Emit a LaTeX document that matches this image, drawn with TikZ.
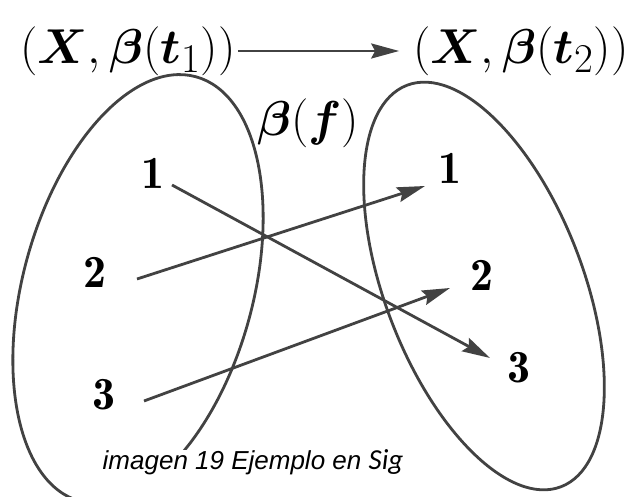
\documentclass[tikz,border=0pt]{standalone}
\usepackage{amsmath}
\usepackage{fontspec}
\newfontfamily\capfont{Liberation Sans}
\newfontfamily\sigfont{Carlito}
\usepackage{xcolor}
\usepackage{tikz}
\usetikzlibrary{arrows.meta}
\definecolor{linegray}{HTML}{424242}
\newcommand{\bigmath}[1]{\scalebox{1.97}{\Huge$#1$}}
\newcommand{\eltmath}[1]{\scalebox{1.85}{\Huge$#1$}}
\tikzset{
  setline/.style={draw=linegray, line width=2.8pt},
  elem/.style={inner sep=0pt},
  maplabel/.style={inner sep=0pt}
}
\begin{document}
\begin{tikzpicture}[x=1pt, y=1pt, >={Stealth[length=28pt, width=15pt, inset=4pt]}]
    \useasboundingbox (0,0) rectangle (634,497);
    % the two sets
    \draw[setline, rotate around={74.75:(138,208)}] (138,208) ellipse (220 and 115);
    \draw[setline, rotate around={111:(484,211)}] (484,211) ellipse (215 and 99);
    % labels
    \node[maplabel] (t1) at (128,446) {\bigmath{(\boldsymbol{X},\boldsymbol{\beta}(\boldsymbol{t}_1))}};
    \node[maplabel] (t2) at (521,446) {\bigmath{(\boldsymbol{X},\boldsymbol{\beta}(\boldsymbol{t}_2))}};
    \node[maplabel] (bf) at (308,374) {\bigmath{\boldsymbol{\beta}(\boldsymbol{f})}};
    \node[elem] (l1) at (153,324) {\eltmath{\mathbf{1}}};
    \node[elem] (l2) at (95,225) {\eltmath{\mathbf{2}}};
    \node[elem] (l3) at (104,102) {\eltmath{\mathbf{3}}};
    \node[elem] (r1) at (450,329) {\eltmath{\mathbf{1}}};
    \node[elem] (r2) at (482,222) {\eltmath{\mathbf{2}}};
    \node[elem] (r3) at (519,129) {\eltmath{\mathbf{3}}};
    % arrows
    \draw[setline, ->, shorten <=2pt, shorten >=14pt] (t1.east) -- (t2.west);
    \draw[setline, ->] ([shift={(19,-12)}]l1.center) -- ([shift={(-29,10)}]r3.center);
    \draw[setline, ->] ([shift={(42,-7)}]l2.center) -- ([shift={(-25,-18)}]r1.center);
    \draw[setline, ->] ([shift={(40,-6)}]l3.center) -- ([shift={(-32,-13)}]r2.center);
    % caption
    \node[anchor=base west, fill=white, inner sep=0.5pt, text height=19pt, text depth=27pt,
      font=\capfont\itshape\fontsize{26}{30}\selectfont] (cap) at (102,27)
      {imagen 19 Ejemplo en {\sigfont\itshape\fontsize{29}{30}\selectfont Sig}};
\end{tikzpicture}
\end{document}
